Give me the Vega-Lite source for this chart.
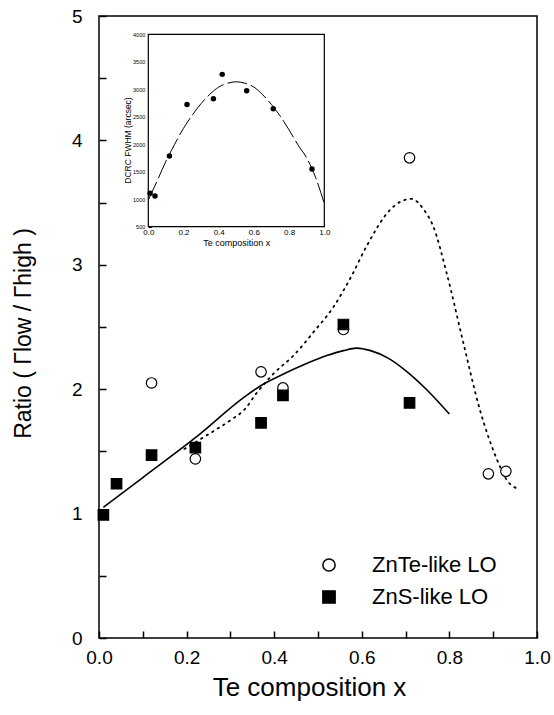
{
  "$schema": "https://vega.github.io/schema/vega-lite/v6.json",
  "width": 438,
  "height": 622,
  "autosize": {"type": "none"},
  "padding": {"left": 99, "top": 16, "right": 17, "bottom": 77},
  "background": "white",
  "config": {
    "font": "Liberation Sans",
    "view": {"stroke": "black", "strokeWidth": 1.5},
    "axis": {"grid": false, "labelColor": "black", "titleColor": "black", "tickColor": "black", "domainColor": "black", "titleFontWeight": "normal", "labelFont": "Liberation Sans", "titleFont": "Liberation Sans"},
    "legend": {"labelFont": "Liberation Sans", "labelColor": "black"}
  },
  "layer": [
    {
      "encoding": {
        "x": {
          "field": "x", "type": "quantitative",
          "scale": {"domain": [0, 1], "nice": false, "zero": false},
          "axis": {
            "orient": "bottom",
            "offset": -7,
            "values": [0, 0.1, 0.2, 0.3, 0.4, 0.5, 0.6, 0.7, 0.8, 0.9, 1],
            "labelExpr": "round(datum.value*10)%2==0 ? format(datum.value,'.1f') : ''",
            "domain": false,
            "ticks": true,
            "tickSize": 7,
            "tickWidth": 1.5,
            "labelFontSize": 19,
            "labelPadding": 10,
            "labelFlush": false,
            "labelOverlap": false,
            "title": "Te composition x",
            "titleFontSize": 26,
            "titleX": 210,
            "titleY": 56,
            "titleBaseline": "middle"
          }
        },
        "y": {
          "field": "ratio", "type": "quantitative",
          "scale": {"domain": [0, 5], "nice": false, "zero": false},
          "axis": {
            "orient": "left",
            "offset": -7,
            "values": [0, 0.5, 1, 1.5, 2, 2.5, 3, 3.5, 4, 4.5, 5],
            "labelExpr": "datum.value%1==0 ? format(datum.value,'d') : ''",
            "domain": false,
            "ticks": true,
            "tickSize": 7,
            "tickWidth": 1.5,
            "labelFontSize": 19,
            "labelPadding": 17,
            "labelFlush": false,
            "labelOverlap": false,
            "title": "Ratio ( Γlow / Γhigh )",
            "titleFontSize": 23,
            "titleX": -83,
            "titleY": 317,
            "titleBaseline": "middle"
          }
        }
      },
      "layer": [
        {
          "data": {"values": [
            {"x": 0.01, "ratio": 1.05}, {"x": 0.1, "ratio": 1.29}, {"x": 0.22, "ratio": 1.61},
            {"x": 0.333, "ratio": 1.94}, {"x": 0.37, "ratio": 2.03}, {"x": 0.42, "ratio": 2.12},
            {"x": 0.47, "ratio": 2.2}, {"x": 0.52, "ratio": 2.27}, {"x": 0.558, "ratio": 2.31},
            {"x": 0.588, "ratio": 2.33}, {"x": 0.62, "ratio": 2.31}, {"x": 0.66, "ratio": 2.25},
            {"x": 0.7, "ratio": 2.15}, {"x": 0.75, "ratio": 1.99}, {"x": 0.8, "ratio": 1.8}
          ]},
          "mark": {"type": "line", "color": "black", "strokeWidth": 1.6, "interpolate": "monotone"}
        },
        {
          "data": {"values": [
            {"x": 0.195, "ratio": 1.52}, {"x": 0.253, "ratio": 1.645}, {"x": 0.3, "ratio": 1.75},
            {"x": 0.333, "ratio": 1.84}, {"x": 0.36, "ratio": 1.97}, {"x": 0.4, "ratio": 2.13},
            {"x": 0.444, "ratio": 2.27}, {"x": 0.49, "ratio": 2.46}, {"x": 0.535, "ratio": 2.66},
            {"x": 0.575, "ratio": 2.9}, {"x": 0.611, "ratio": 3.15}, {"x": 0.664, "ratio": 3.44},
            {"x": 0.69, "ratio": 3.51}, {"x": 0.714, "ratio": 3.53}, {"x": 0.74, "ratio": 3.45},
            {"x": 0.763, "ratio": 3.31}, {"x": 0.794, "ratio": 2.93}, {"x": 0.832, "ratio": 2.37},
            {"x": 0.87, "ratio": 1.83}, {"x": 0.908, "ratio": 1.44}, {"x": 0.931, "ratio": 1.27},
            {"x": 0.955, "ratio": 1.2}
          ]},
          "mark": {"type": "line", "color": "black", "strokeWidth": 1.8, "strokeDash": [1.5, 5], "strokeCap": "round", "interpolate": "monotone"}
        },
        {
          "data": {"values": [
            {"series": "ZnTe-like LO", "x": 0.12, "ratio": 2.05},
            {"series": "ZnTe-like LO", "x": 0.22, "ratio": 1.44},
            {"series": "ZnTe-like LO", "x": 0.37, "ratio": 2.14},
            {"series": "ZnTe-like LO", "x": 0.42, "ratio": 2.01},
            {"series": "ZnTe-like LO", "x": 0.558, "ratio": 2.48},
            {"series": "ZnTe-like LO", "x": 0.709, "ratio": 3.86},
            {"series": "ZnTe-like LO", "x": 0.889, "ratio": 1.32},
            {"series": "ZnTe-like LO", "x": 0.929, "ratio": 1.34},
            {"series": "ZnS-like LO", "x": 0.01, "ratio": 0.99},
            {"series": "ZnS-like LO", "x": 0.04, "ratio": 1.24},
            {"series": "ZnS-like LO", "x": 0.12, "ratio": 1.47},
            {"series": "ZnS-like LO", "x": 0.22, "ratio": 1.53},
            {"series": "ZnS-like LO", "x": 0.37, "ratio": 1.73},
            {"series": "ZnS-like LO", "x": 0.42, "ratio": 1.95},
            {"series": "ZnS-like LO", "x": 0.558, "ratio": 2.52},
            {"series": "ZnS-like LO", "x": 0.709, "ratio": 1.89}
          ]},
          "mark": {"type": "point", "filled": true, "stroke": "black", "strokeWidth": 1.2, "size": 110, "opacity": 1},
          "encoding": {
            "shape": {
              "field": "series", "type": "nominal",
              "scale": {"domain": ["ZnTe-like LO", "ZnS-like LO"], "range": ["circle", "square"]},
              "legend": {"title": null, "orient": "none", "legendX": 219, "legendY": 538, "labelFontSize": 22, "symbolSize": 150, "labelOffset": 32, "rowPadding": 10, "padding": 0,
                "encode": {"symbols": {"update": {"stroke": {"value": "black"}, "strokeWidth": {"value": 1.2}}}}}
            },
            "fill": {
              "field": "series", "type": "nominal",
              "scale": {"domain": ["ZnTe-like LO", "ZnS-like LO"], "range": ["white", "black"]},
              "legend": {"title": null, "orient": "none", "legendX": 219, "legendY": 538, "labelFontSize": 22, "symbolSize": 150, "labelOffset": 32, "rowPadding": 10, "padding": 0,
                "encode": {"symbols": {"update": {"stroke": {"value": "black"}, "strokeWidth": {"value": 1.2}}}}}
            }
          }
        }
      ]
    },
    {
      "encoding": {
        "x": {
          "field": "x", "type": "quantitative",
          "scale": {"domain": [0, 1], "range": [49.3, 225.3], "nice": false, "zero": false},
          "axis": {
            "orient": "bottom", "offset": -414.3,
            "values": [0, 0.2, 0.4, 0.6, 0.8, 1], "format": ".1f",
            "domain": false, "tickSize": 3, "tickWidth": 1, "labelFontSize": 8, "labelPadding": 2,
            "labelFlush": false, "labelOverlap": false,
            "title": "Te composition x", "titleFontSize": 9, "titleY": 19, "titleBaseline": "middle"
          }
        },
        "y": {
          "field": "fwhm", "type": "quantitative",
          "scale": {"domain": [500, 4000], "range": [210.7, 18.3], "nice": false, "zero": false},
          "axis": {
            "orient": "left", "offset": -52.3,
            "values": [500, 1000, 1500, 2000, 2500, 3000, 3500, 4000], "format": "d",
            "domain": false, "tickSize": 3, "tickWidth": 1, "labelFontSize": 5.5, "labelPadding": 3.5,
            "labelFlush": false, "labelOverlap": false,
            "title": "DCRC FWHM (arcsec)", "titleFontSize": 8.5, "titleX": -24, "titleY": 124, "titleBaseline": "middle"
          }
        }
      },
      "layer": [
        {
          "data": {"values": [{"x": 0, "x2": 1, "fwhm": 500, "fwhm2": 4000}]},
          "mark": {"type": "rect", "fill": "white", "stroke": "black", "strokeWidth": 1.2},
          "encoding": {"x2": {"field": "x2"}, "y2": {"field": "fwhm2"}}
        },
        {
          "data": {"values": [
            {"x": 0, "fwhm": 985}, {"x": 0.05, "fwhm": 1330}, {"x": 0.1, "fwhm": 1690},
            {"x": 0.15, "fwhm": 2000}, {"x": 0.2, "fwhm": 2290}, {"x": 0.25, "fwhm": 2530},
            {"x": 0.3, "fwhm": 2740}, {"x": 0.35, "fwhm": 2910}, {"x": 0.4, "fwhm": 3040},
            {"x": 0.45, "fwhm": 3110}, {"x": 0.5, "fwhm": 3136}, {"x": 0.55, "fwhm": 3110},
            {"x": 0.6, "fwhm": 3040}, {"x": 0.65, "fwhm": 2900}, {"x": 0.7, "fwhm": 2720},
            {"x": 0.75, "fwhm": 2510}, {"x": 0.8, "fwhm": 2260}, {"x": 0.85, "fwhm": 1990},
            {"x": 0.9, "fwhm": 1750}, {"x": 0.95, "fwhm": 1400}, {"x": 1, "fwhm": 920}
          ]},
          "mark": {"type": "line", "color": "black", "strokeWidth": 1, "strokeDash": [20, 4], "interpolate": "monotone"}
        },
        {
          "data": {"values": [
            {"x": 0.01, "fwhm": 1107}, {"x": 0.038, "fwhm": 1058}, {"x": 0.12, "fwhm": 1785},
            {"x": 0.22, "fwhm": 2725}, {"x": 0.37, "fwhm": 2827}, {"x": 0.42, "fwhm": 3271},
            {"x": 0.559, "fwhm": 2973}, {"x": 0.71, "fwhm": 2645}, {"x": 0.93, "fwhm": 1549}
          ]},
          "mark": {"type": "circle", "color": "black", "size": 30, "opacity": 1}
        }
      ]
    }
  ],
  "resolve": {"scale": {"x": "independent", "y": "independent"}}
}
